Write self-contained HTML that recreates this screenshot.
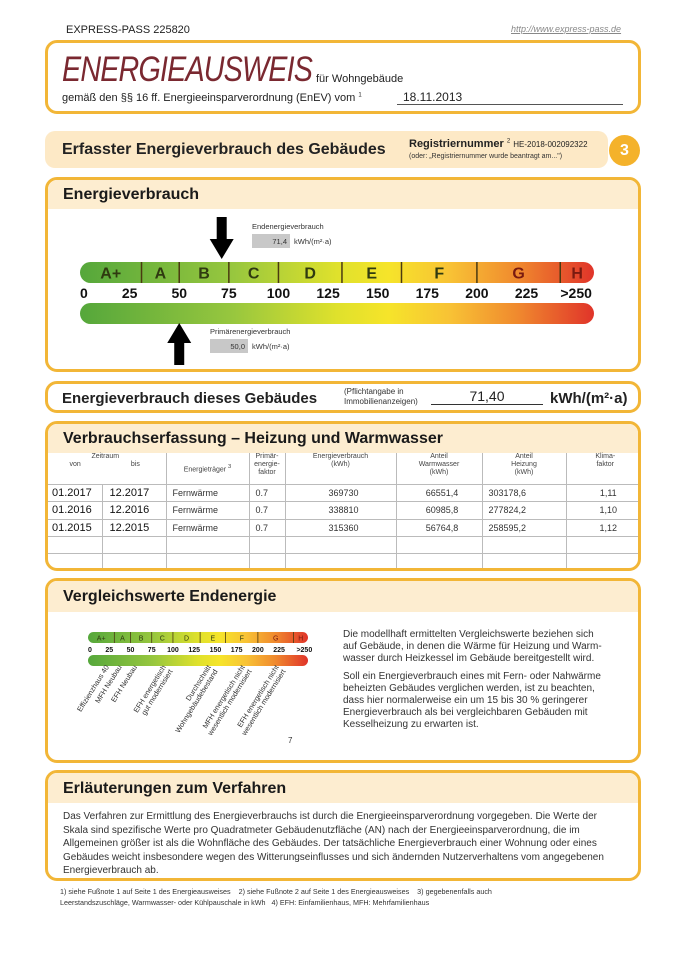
<!DOCTYPE html>
<html><head><meta charset="utf-8">
<style>
*{margin:0;padding:0;box-sizing:border-box}
body{width:686px;height:960px;background:#fff;font-family:"Liberation Sans",sans-serif;color:#222;position:relative;overflow:hidden}
.a{position:absolute;white-space:nowrap}
.box{position:absolute;left:45px;width:596px;border:3px solid #f2b637;border-radius:12px;background:#fff;overflow:hidden}
.band{position:absolute;left:0;top:0;width:100%;background:#fdedd0}
.h{position:absolute;left:15px;font-weight:bold;font-size:16px;color:#1a1a1a}
.s{font-size:8px;color:#333}
table{border-collapse:collapse}
</style></head><body>
<div class="a" style="left:66px;top:24px;font-size:11px">EXPRESS-PASS 225820</div>
<div class="a" style="left:511px;top:24px;font-size:9px;font-style:italic;color:#888;text-decoration:underline">http://www.express-pass.de</div>

<div class="box" style="top:40px;height:74px">
 <div class="a" style="left:14px;top:7px;font-size:35px;font-style:italic;color:#7a2830;letter-spacing:-1px;transform:scaleX(0.82);transform-origin:left">ENERGIEAUSWEIS</div>
 <div class="a" style="left:268px;top:30px;font-size:11px">für Wohngebäude</div>
 <div class="a" style="left:14px;top:49px;font-size:11px">gemäß den §§ 16 ff. Energieeinsparverordnung (EnEV) vom <sup style="font-size:6px">1</sup></div>
 <div class="a" style="left:349px;top:47px;width:226px;border-bottom:1px solid #555;font-size:12px;padding-left:6px">18.11.2013</div>
</div>

<div class="a" style="left:45px;top:131px;width:563px;height:37px;background:#fde9c6;border-radius:10px"></div>
<div class="a" style="left:62px;top:141px;font-size:16px;font-weight:bold">Erfasster Energieverbrauch des Gebäudes</div>
<div class="a" style="left:409px;top:138px;font-size:11px"><b>Registriernummer</b> <sup style="font-size:6px">2</sup> <span style="font-size:8px">HE-2018-002092322</span></div>
<div class="a s" style="left:409px;top:153px;font-size:7px">(oder: „Registriernummer wurde beantragt am...")</div>
<div class="a" style="left:609px;top:135px;width:31px;height:31px;border-radius:50%;background:#f4b22b;color:#fff;font-weight:bold;font-size:16px;text-align:center;line-height:31px">3</div>

<div class="box" style="top:177px;height:195px">
 <div class="band" style="height:29px"></div>
 <div class="h" style="top:6px">Energieverbrauch</div>
</div>
<svg class="a" id="mainScale" style="left:0;top:0" width="686" height="380"></svg>

<div class="box" style="top:381px;height:32px">
 <div class="a" style="left:14px;top:6px;font-size:15px;font-weight:bold">Energieverbrauch dieses Gebäudes</div>
 <div class="a s" style="left:296px;top:3px;line-height:10px">(Pflichtangabe in<br>Immobilienanzeigen)</div>
 <div class="a" style="left:383px;top:4px;width:112px;border-bottom:1px solid #333;text-align:center;font-size:14px">71,40</div>
 <div class="a" style="left:502px;top:6px;font-size:15px;font-weight:bold">kWh/(m²·a)</div>
</div>

<div class="box" style="top:421px;height:150px">
 <div class="band" style="height:29px"></div>
 <div class="h" style="top:6px">Verbrauchserfassung – Heizung und Warmwasser</div>
 <table class="a" style="left:-3px;top:29px;width:599px;font-size:9px;color:#444">
  <colgroup><col style="width:57px"><col style="width:64px"><col style="width:83px"><col style="width:36px"><col style="width:111px"><col style="width:86px"><col style="width:84px"><col></colgroup>
  <tr style="height:31px;font-size:7px;text-align:center;vertical-align:top;line-height:8px">
   <td colspan="2" style="border-right:1px solid #bbb;border-bottom:1px solid #bbb">Zeitraum<br><span style="display:inline-block;width:50%">von</span><span style="display:inline-block;width:50%">bis</span></td>
   <td style="border-right:1px solid #bbb;border-bottom:1px solid #bbb;padding-top:10px">Energieträger <sup>3</sup></td>
   <td style="border-right:1px solid #bbb;border-bottom:1px solid #bbb">Primär-<br>energie-<br>faktor</td>
   <td style="border-right:1px solid #bbb;border-bottom:1px solid #bbb">Energieverbrauch<br>(kWh)</td>
   <td style="border-right:1px solid #bbb;border-bottom:1px solid #bbb">Anteil<br>Warmwasser<br>(kWh)</td>
   <td style="border-right:1px solid #bbb;border-bottom:1px solid #bbb">Anteil<br>Heizung<br>(kWh)</td>
   <td style="border-bottom:1px solid #bbb">Klima-<br>faktor</td>
  </tr>
  <tbody id="tb"></tbody>
 </table>
</div>

<div class="box" style="top:578px;height:185px">
 <div class="band" style="height:31px"></div>
 <div class="h" style="top:7px">Vergleichswerte Endenergie</div>
 <div class="a" style="left:295px;top:48px;font-size:10px;line-height:12px;color:#333">Die modellhaft ermittelten Vergleichswerte beziehen sich<br>auf Gebäude, in denen die Wärme für Heizung und Warm-<br>wasser durch Heizkessel im Gebäude bereitgestellt wird.<div style="height:6px"></div>Soll ein Energieverbrauch eines mit Fern- oder Nahwärme<br>beheizten Gebäudes verglichen werden, ist zu beachten,<br>dass hier normalerweise ein um 15 bis 30 % geringerer<br>Energieverbrauch als bei vergleichbaren Gebäuden mit<br>Kesselheizung zu erwarten ist.</div>
</div>
<svg class="a" id="smallScale" style="left:0;top:600px" width="330" height="160"></svg>
<div class="a s" style="left:288px;top:736px">7</div>

<div class="box" style="top:770px;height:111px">
 <div class="band" style="height:30px"></div>
 <div class="h" style="top:7px">Erläuterungen zum Verfahren</div>
 <div class="a" style="left:15px;top:37px;font-size:10px;line-height:13.5px;color:#333">Das Verfahren zur Ermittlung des Energieverbrauchs ist durch die Energieeinsparverordnung vorgegeben. Die Werte der<br>Skala sind spezifische Werte pro Quadratmeter Gebäudenutzfläche (AN) nach der Energieeinsparverordnung, die im<br>Allgemeinen größer ist als die Wohnfläche des Gebäudes. Der tatsächliche Energieverbrauch einer Wohnung oder eines<br>Gebäudes weicht insbesondere wegen des Witterungseinflusses und sich ändernden Nutzerverhaltens vom angegebenen<br>Energieverbrauch ab.</div>
</div>
<div class="a" style="left:60px;top:887px;font-size:7.2px;line-height:10.5px;color:#333">1) siehe Fußnote 1 auf Seite 1 des Energieausweises &nbsp;&nbsp;&nbsp;2) siehe Fußnote 2 auf Seite 1 des Energieausweises &nbsp;&nbsp;&nbsp;3) gegebenenfalls auch<br>Leerstandszuschläge, Warmwasser- oder Kühlpauschale in kWh &nbsp;&nbsp;4) EFH: Einfamilienhaus, MFH: Mehrfamilienhaus</div>

<script>
const classLabels=["A+","A","B","C","D","E","F","G","H"];
const classBounds=[0,31,50,75,100,132,162,200,242,259];
const tickValues=[0,25,50,75,100,125,150,175,200,225,250];
const tickLabels=["0","25","50","75","100","125","150","175","200","225",">250"];
const endEnergy=71.4;
const primaryEnergy=50.0;
const compLabels=[["Effizienzhaus 40"],["MFH Neubau"],["EFH Neubau"],["EFH energetisch","gut modernisiert"],["Durchschnitt","Wohngebäudebestand"],["MFH energetisch nicht","wesentlich modernisiert"],["EFH energetisch nicht","wesentlich modernisiert"]];
const compValues=[25,40,58,92,145,185,225];
const rows=[["01.2017","12.2017","Fernwärme","0.7","369730","66551,4","303178,6","1,11"],["01.2016","12.2016","Fernwärme","0.7","338810","60985,8","277824,2","1,10"],["01.2015","12.2015","Fernwärme","0.7","315360","56764,8","258595,2","1,12"]];

const NS="http://www.w3.org/2000/svg";
function mk(p,t,a){const e=document.createElementNS(NS,t);for(const k in a)e.setAttribute(k,a[k]);p.appendChild(e);return e;}
function drawScale(svg,x0,x1,y,bh,gap,fs,big,id){
 const D=259;
 const sx=v=>x0+(Math.min(v,D)/D)*(x1-x0);
 const defs=mk(svg,"defs",{});
 const g=mk(defs,"linearGradient",{id:id,x1:"0",x2:"1",y1:"0",y2:"0"});
 [["0","#55a73b"],["0.3","#98c73e"],["0.5","#dfe12c"],["0.6","#f6e42a"],["0.72","#f8c235"],["0.85","#f08a2e"],["1","#e0342a"]].forEach(s=>mk(g,"stop",{offset:s[0],"stop-color":s[1]}));
 const r=bh/2;
 const bar=mk(svg,"rect",{x:x0,y:y,width:x1-x0,height:bh,rx:r,fill:"url(#"+id+")"});
 
 
 for(let i=0;i<classLabels.length;i++){
  const a=sx(classBounds[i]),b=sx(classBounds[i+1]);
  if(i>0){const l=mk(svg,"line",{x1:a,x2:a,y1:y,y2:y+bh,stroke:"#4a3a10","stroke-width":big?1.5:0.8});
   
   }
  const t=mk(svg,"text",{x:(a+b)/2,y:y+bh*0.78,"text-anchor":"middle","font-size":fs+(big?2:0),"font-weight":big?"bold":"normal",fill:i>=7?"#7a1a10":"#2f3a10"});
  t.textContent=classLabels[i];
  
  
 }
 tickValues.forEach((v,i)=>{
  const t=mk(svg,"text",{x:sx(v)+(i==tickValues.length-1&&!big?4:0),y:y+bh+gap,"text-anchor":i==0?"start":"middle","font-size":fs,"font-weight":"bold",fill:"#111"});
  t.textContent=tickLabels[i];
  
  
 });
 const gb=mk(svg,"rect",{x:x0,y:y+bh+gap+(big?5:3),width:x1-x0,height:bh,rx:r,fill:"url(#"+id+")"});
 
 
 return sx;
}
const ms=document.getElementById("mainScale");
const sx=drawScale(ms,80,594,262,21,15,14,true,"gm");
function arrow(x,tipY,dir,name){
 const L=42,hw=12,sw=5,hl=20;
 const b=tipY-dir*L, h=tipY-dir*hl;
 const p=mk(ms,"polygon",{points:[[x-sw,b],[x+sw,b],[x+sw,h],[x+hw,h],[x,tipY],[x-hw,h],[x-sw,h]].map(q=>q.join(",")).join(" "),fill:"#000"});
 
 
}
arrow(sx(endEnergy),259,1,'end-energy-arrow');
arrow(sx(primaryEnergy),323,-1,'primary-energy-arrow');
function valueBox(x,y,label,val,name){
 const t=mk(ms,"text",{x:x,y:y,"font-size":7.5,fill:"#333"});t.textContent=label;
 
 
 const r=mk(ms,"rect",{x:x,y:y+5,width:38,height:14,fill:"#c8c8c8"});
 
 
 const v=mk(ms,"text",{x:x+35,y:y+15,"font-size":7.5,"text-anchor":"end",fill:"#333"});v.textContent=val.toFixed(1).replace(".",",");
 
 
 const u=mk(ms,"text",{x:x+42,y:y+15,"font-size":7.5,fill:"#333"});u.textContent="kWh/(m²·a)";
 
 
}
valueBox(252,229,"Endenergieverbrauch",endEnergy,'end-energy');
valueBox(210,334,"Primärenergieverbrauch",primaryEnergy,'primary-energy');

const ss=document.getElementById("smallScale");
const sxs=drawScale(ss,88,308,32,11,9,7,false,"gs");
compValues.forEach((v,i)=>{
 const gEl=mk(ss,"g",{transform:"translate("+sxs(v)+",67) rotate(-58)"});
 
 
 compLabels[i].forEach((ln,j)=>{
  const t=mk(gEl,"text",{x:0,y:j*8,"text-anchor":"end","font-size":7.3,fill:"#333"});t.textContent=ln;
 });
});

const tb=document.getElementById("tb");
const all=rows.concat([["","","","","","","",""],["","","","","","","",""]]);
all.forEach((r,ri)=>{
 const tr=document.createElement("tr");
 
 
 tr.style.height=(ri<3?17.5:16.5)+"px";
 r.forEach((c,ci)=>{
  const td=document.createElement("td");td.textContent=c;
  td.style.borderBottom="1px solid #bbb";
  if(ci<7)td.style.borderRight="1px solid #bbb";
  td.style.fontSize=ci<2?"11px":"9px";
  td.style.color=ci<2?"#111":"#333";
  td.style.paddingLeft=ci<2?"7px":"6px";
  if(ci==4||ci==5||ci==7)td.style.textAlign="center";
  tr.appendChild(td);
 });
 tb.appendChild(tr);
});
</script>
</body></html>
